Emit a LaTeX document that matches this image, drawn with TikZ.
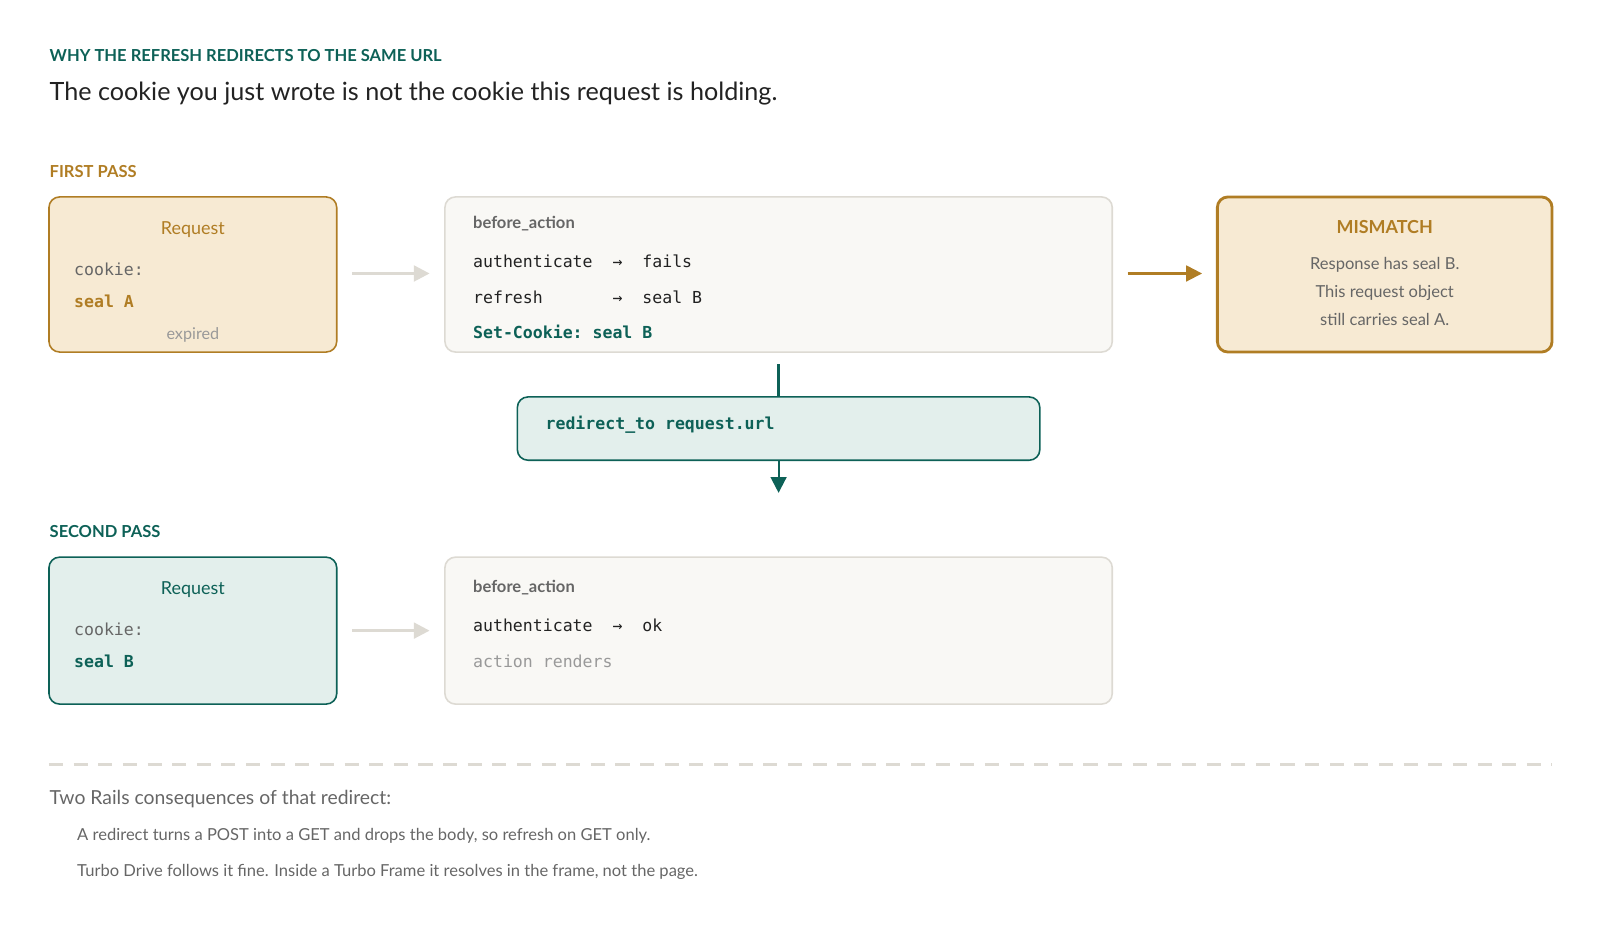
\documentclass[tikz,border=0pt]{standalone}
\usepackage{fontspec}
\setmainfont{Lato}
\setmonofont{DejaVu Sans Mono}
\usetikzlibrary{arrows.meta}
\definecolor{teal}{HTML}{0D6157}
\definecolor{ochre}{HTML}{B07D24}
\definecolor{ochrefill}{HTML}{F7EAD3}
\definecolor{tealfill}{HTML}{E3EFEC}
\definecolor{pale}{HTML}{F9F8F5}
\definecolor{paleline}{HTML}{DDDAD3}
\definecolor{ink}{HTML}{222222}
\definecolor{mid}{HTML}{666666}
\definecolor{soft}{HTML}{999999}
\tikzset{
  box/.style={draw, rounded corners=3pt, line width=0.45pt},
  reqbox/.style={box, draw=ochre, fill=ochrefill},
  okbox/.style={box, draw=teal, fill=tealfill},
  codebox/.style={box, draw=paleline, fill=pale},
  txt/.style={inner sep=0pt, anchor=base west, font=\fontsize{5.1}{6}\selectfont},
  code/.style={inner sep=0pt, anchor=base west, font=\fontsize{4.7}{6}\selectfont\ttfamily},
  flow/.style={-{Triangle[length=4.5pt,width=4.5pt]}, line width=0.6pt}
}
\begin{document}
\begin{tikzpicture}[x=0.0102cm,y=-0.0102cm]
\useasboundingbox (0,0) rectangle (1568,921);
% heading
\node[txt, font=\fontsize{4.7}{6}\selectfont\bfseries, text=teal] (kicker) at (48,60) {WHY THE REFRESH REDIRECTS TO THE SAME URL};
\node[txt, font=\fontsize{7.15}{8}\selectfont, text=ink] (title) at (48,98) {The cookie you just wrote is not the cookie this request is holding.};
% first pass
\node[txt, font=\fontsize{4.7}{6}\selectfont\bfseries, text=ochre] (first) at (48,174) {FIRST PASS};
\draw[reqbox] (48,193) rectangle (330,345);
\node[txt, anchor=base, text=ochre] (req1) at (189,230) {Request};
\node[code, text=mid] (ck1) at (72,270) {cookie:};
\node[code, text=ochre, font=\fontsize{4.7}{6}\selectfont\ttfamily\bfseries] (seal1) at (72,301) {seal A};
\node[txt, anchor=base, text=soft, font=\fontsize{4.6}{6}\selectfont] (exp) at (189,333) {expired};
\coordinate (g1a) at (345,268); \coordinate (g1b) at (421,268);
\draw[flow, draw=paleline, line width=0.8pt] (g1a) -- (g1b);
\draw[codebox] (436,193) rectangle (1090,345);
\node[txt, text=mid, font=\fontsize{4.7}{6}\selectfont\bfseries] (ba1) at (463,224) {before\_action};
\node[code, text=ink] (auth1) at (463,262) {authenticate~~→~~fails};
\node[code, text=ink] (refr) at (463,297) {refresh~~~~~~~→~~seal B};
\node[code, text=teal, font=\fontsize{4.7}{6}\selectfont\ttfamily\bfseries] (setck) at (463,332) {Set-Cookie: seal B};
\coordinate (b1a) at (1105,268); \coordinate (b1b) at (1178,268);
\draw[flow, draw=ochre, fill=ochre] (b1a) -- (b1b);
\draw[reqbox, line width=0.8pt] (1193,193) rectangle (1521,345);
\node[txt, anchor=base, text=ochre, font=\fontsize{5.1}{6}\selectfont\bfseries] (mis) at (1357,229) {MISMATCH};
\node[txt, anchor=base, text=mid, font=\fontsize{4.7}{6}\selectfont] (m1) at (1357,264) {Response has seal B.};
\node[txt, anchor=base, text=mid, font=\fontsize{4.7}{6}\selectfont] (m2) at (1357,292) {This request object};
\node[txt, anchor=base, text=mid, font=\fontsize{4.7}{6}\selectfont] (m3) at (1357,319) {still carries seal A.};
% redirect
\coordinate (r0) at (763,357);
\draw[okbox] (507,389) rectangle (1019,451);
\coordinate (rt) at (763,389); \coordinate (rb) at (763,451); \coordinate (r1) at (763,483);
\draw[teal, line width=0.8pt] (r0) -- (rt);
\draw[flow, draw=teal, fill=teal] (rb) -- (r1);
\node[code, text=teal, font=\fontsize{4.7}{6}\selectfont\ttfamily\bfseries] (redir) at (534,421) {redirect\_to request.url};
% second pass
\node[txt, font=\fontsize{4.7}{6}\selectfont\bfseries, text=teal] (second) at (48,527) {SECOND PASS};
\draw[okbox] (48,546) rectangle (330,690);
\node[txt, anchor=base, text=teal] (req2) at (189,583) {Request};
\node[code, text=mid] (ck2) at (72,623) {cookie:};
\node[code, text=teal, font=\fontsize{4.7}{6}\selectfont\ttfamily\bfseries] (seal2) at (72,654) {seal B};
\coordinate (g2a) at (345,618); \coordinate (g2b) at (421,618);
\draw[flow, draw=paleline, line width=0.8pt] (g2a) -- (g2b);
\draw[codebox] (436,546) rectangle (1090,690);
\node[txt, text=mid, font=\fontsize{4.7}{6}\selectfont\bfseries] (ba2) at (463,581) {before\_action};
\node[code, text=ink] (auth2) at (463,619) {authenticate~~→~~ok};
\node[code, text=soft] (rend) at (463,654) {action renders};
% footer
\coordinate (d0) at (48,749); \coordinate (d1) at (1521,749);
\draw[paleline, line width=0.7pt, dash pattern=on 4pt off 3pt] (d0) -- (d1);
\node[txt, text=mid, font=\fontsize{5.5}{6}\selectfont] (foot) at (48,788) {Two Rails consequences of that redirect:};
\node[txt, text=mid, font=\fontsize{4.7}{6}\selectfont] (f1) at (75,824) {A redirect turns a POST into a GET and drops the body, so refresh on GET only.};
\node[txt, text=mid, font=\fontsize{4.7}{6}\selectfont] (f2) at (75,859) {Turbo Drive follows it fine. Inside a Turbo Frame it resolves in the frame, not the page.};
\end{tikzpicture}
\end{document}
